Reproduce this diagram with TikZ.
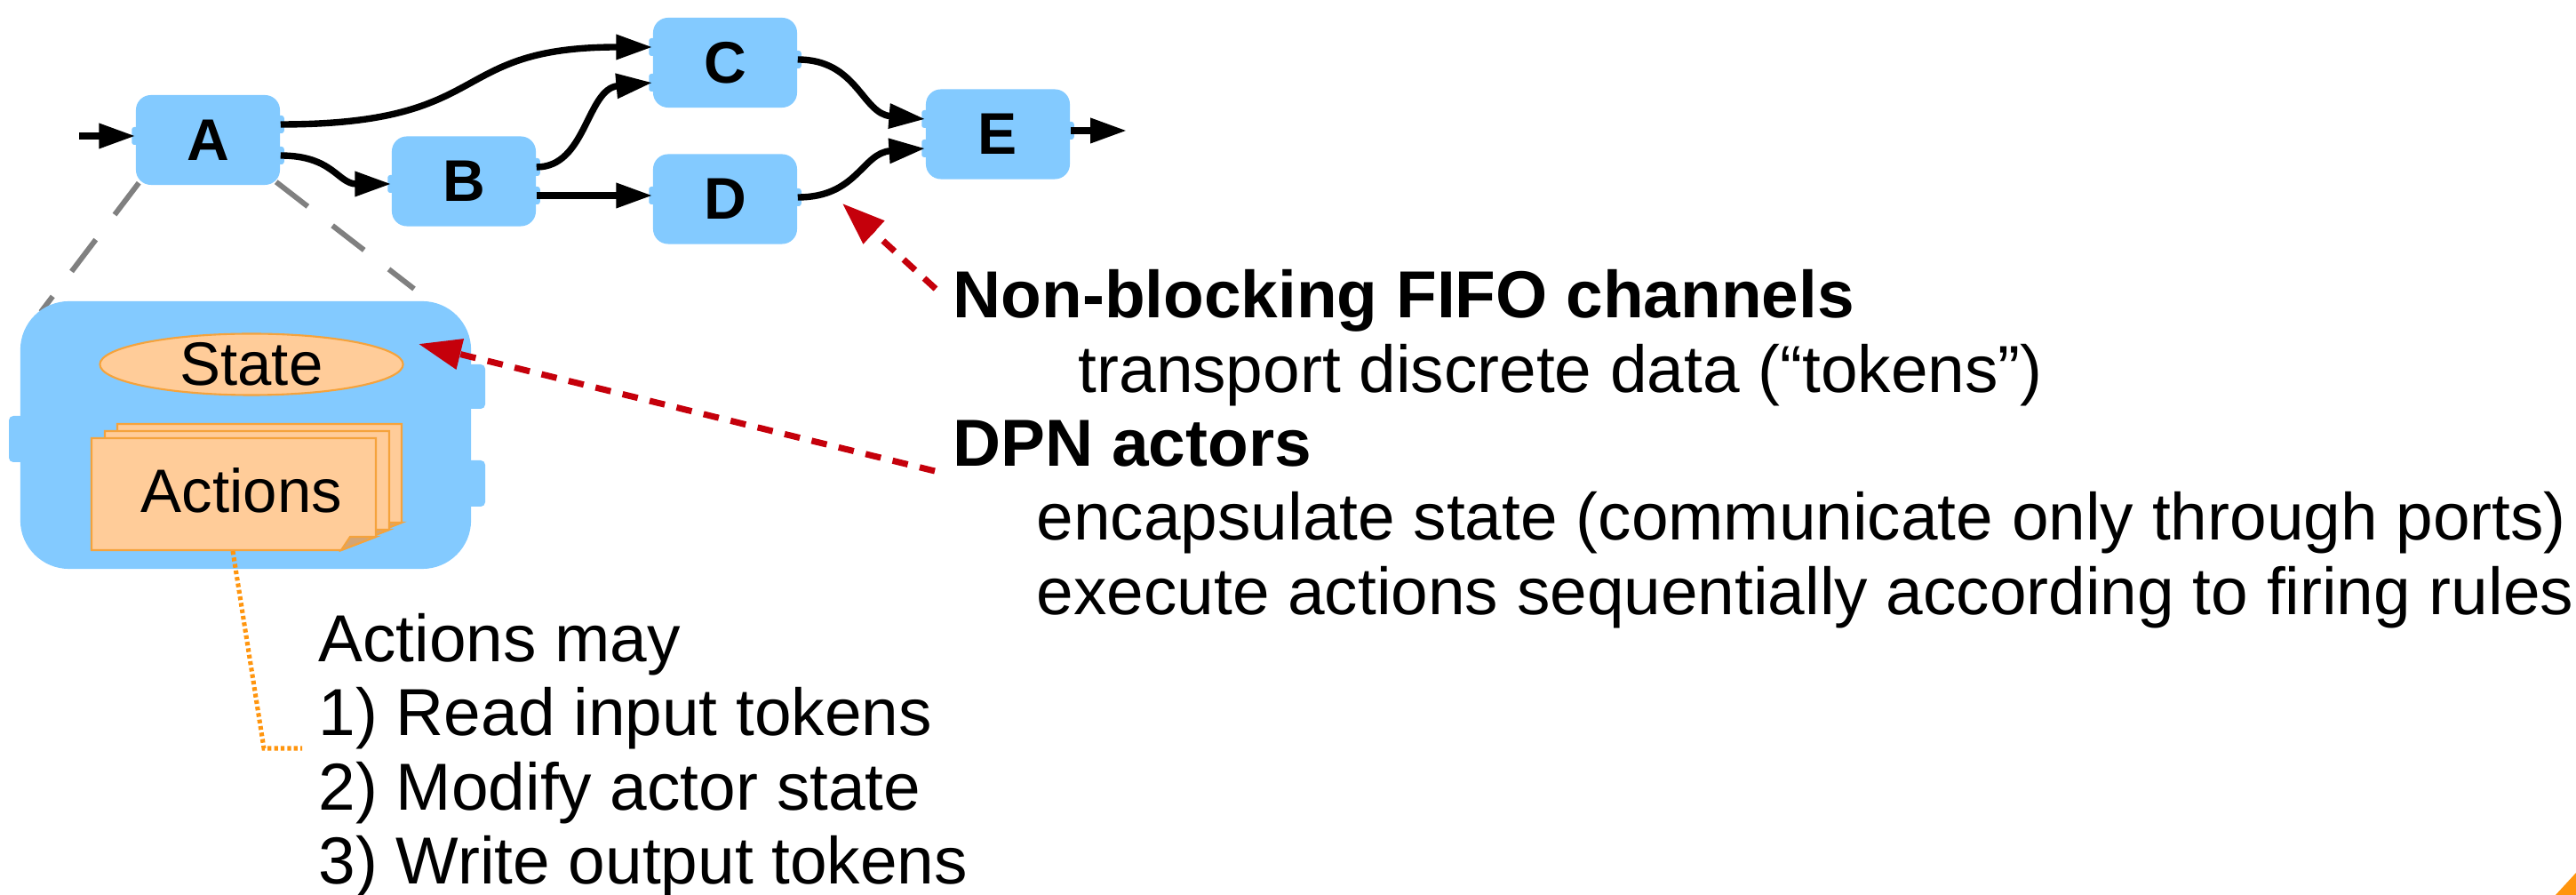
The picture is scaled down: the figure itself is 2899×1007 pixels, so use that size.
\documentclass[tikz,border=0pt]{standalone}
\usepackage{fontspec}
\setmainfont{Liberation Sans}
\usetikzlibrary{arrows.meta,shapes.geometric,calc}
\definecolor{actorblue}{HTML}{83CAFF}
\definecolor{peach}{HTML}{FFCC99}
\definecolor{peachline}{HTML}{F5A33C}
\definecolor{foldtan}{HTML}{D4A574}
\definecolor{arrowred}{HTML}{C5000B}
\definecolor{dotorange}{HTML}{FF950E}
\definecolor{guidegray}{HTML}{808080}
\newcommand\porttab[1]{\fill[actorblue, rounded corners=0.8pt] ($(#1)+(-4,-10)$) rectangle ($(#1)+(4,10)$);}
\newcommand\actioncard[2]{%
  \filldraw[fill=peach, draw=peachline, line width=0.6pt] (#1,#2) -- ++(320,0) -- ++(0,111) -- ++(-39,15) -- ++(-281,0) -- cycle;
  \filldraw[fill=foldtan, draw=peachline, line width=0.6pt] ({#1+281},{#2+126}) -- ({#1+291},{#2+111}) -- ({#1+320},{#2+111}) -- cycle;}
\begin{document}
\begin{tikzpicture}[x=0.01cm,y=-0.01cm,
  actor/.style={fill=actorblue, rounded corners=4.8pt, minimum width=1.62cm, minimum height=1.01cm, inner sep=0pt, font=\fontsize{18.8}{22}\selectfont\bfseries},
  flow/.style={line width=2.1pt, -{Triangle[length=11.6pt,width=7.6pt]}},
  redarrow/.style={draw=arrowred, line width=2pt, dash pattern=on 5pt off 3.9pt, -{Triangle[length=13.7pt,width=9.6pt]}},
  guide/.style={draw=guidegray, line width=1.7pt, dash pattern=on 12.8pt off 10pt},
  dotline/.style={draw=dotorange, line width=1.45pt, dash pattern=on 1.2pt off 0.9pt},
  bodytext/.style={anchor=base west, inner sep=0pt, font=\fontsize{21.27}{25}\selectfont},
  boldtext/.style={bodytext, font=\fontsize{21.27}{25}\selectfont\bfseries},
  innerlabel/.style={inner sep=0pt, font=\fontsize{19.6}{23}\selectfont}
]
\useasboundingbox (0,0) rectangle (2899,1007);

% flow graph nodes
\node[actor] (A) at (234,157.5) {A};
\node[actor] (B) at (522,204) {B};
\node[actor] (C) at (816,70.5) {C};
\node[actor] (D) at (816,224) {D};
\node[actor] (E) at (1123,151) {E};

% ports
\coordinate (Ain) at ($(A.west)+(0,-4.5)$);
\coordinate (Ao1) at ($(A.east)+(0,-17.5)$);
\coordinate (Ao2) at ($(A.east)+(0,17.5)$);
\coordinate (Bin) at ($(B.west)+(0,3)$);
\coordinate (Bo1) at ($(B.east)+(0,-16)$);
\coordinate (Bo2) at ($(B.east)+(0,16)$);
\coordinate (Ci1) at ($(C.west)+(0,-17.5)$);
\coordinate (Ci2) at ($(C.west)+(0,22.5)$);
\coordinate (Co) at ($(C.east)+(0,-3.5)$);
\coordinate (Din) at ($(D.west)+(0,-4)$);
\coordinate (Do) at ($(D.east)+(0,-2)$);
\coordinate (Ei1) at ($(E.west)+(0,-17)$);
\coordinate (Ei2) at ($(E.west)+(0,16)$);
\coordinate (Eo) at ($(E.east)+(0,-4)$);
\foreach \p in {Ain,Ao1,Ao2,Bin,Bo1,Bo2,Ci1,Ci2,Co,Din,Do,Ei1,Ei2,Eo} {\porttab{\p}}

\coordinate (src) at (89,153);
\coordinate (sink) at (1268,147);

% channels
\draw[flow] (src) -- (Ain);
\draw[flow] (Ao1) .. controls (560,140) and (500,53) .. (Ci1);
\draw[flow] (Ao2) .. controls (375,175) and (380,207) .. (Bin);
\draw[flow] (Bo1) .. controls (660,188) and (660,100) .. (Ci2);
\draw[flow] (Bo2) -- (Din);
\draw[flow] (Co) .. controls (965,67) and (970,128) .. (Ei1);
\draw[flow] (Do) .. controls (965,222) and (970,172) .. (Ei2);
\draw[flow] (Eo) -- (sink);

% zoom guide lines
\coordinate (bigTL) at (46,351);
\coordinate (bigTR) at (466,325);
\draw[guide] ($(A.south west)+(4,-3)$) -- (bigTL);
\draw[guide] ($(A.south east)+(-5,-4)$) -- (bigTR);

% enlarged actor
\fill[actorblue, rounded corners=1.4pt] (10,468) rectangle (30,520);
\fill[actorblue, rounded corners=1.4pt] (520,410) rectangle (546,460);
\fill[actorblue, rounded corners=1.4pt] (520,518) rectangle (546,570);
\node[fill=actorblue, rounded corners=15.6pt, minimum width=5.07cm, minimum height=3.01cm, inner sep=0pt] (big) at (276.5,489.5) {};
\node[ellipse, fill=peach, draw=peachline, line width=0.6pt, minimum width=3.41cm, minimum height=0.67cm, inner sep=0pt, font=\fontsize{19.6}{23}\selectfont] (state) at (283,410) {State};
\actioncard{132}{477}
\actioncard{118}{485}
\actioncard{103}{493}
\node[innerlabel, anchor=base] (actlabel) at (272,577) {Actions};

% texts
\node[boldtext] (fifo) at (1072,358) {Non-blocking FIFO channels};
\node[bodytext] (transport) at (1213,442) {transport discrete data (“tokens”)};
\node[boldtext] (dpn) at (1072,525) {DPN actors};
\node[bodytext] (encap) at (1166,608) {encapsulate state (communicate only through ports)};
\node[bodytext] (exec) at (1166,692) {execute actions sequentially according to firing rules};
\node[bodytext] (may) at (358,745) {Actions may};
\node[bodytext] (r1) at (358,828) {1) Read input tokens};
\node[bodytext] (r2) at (358,912) {2) Modify actor state};
\node[bodytext] (r3) at (358,995) {3) Write output tokens};

% annotation arrows
\coordinate (fifoTail) at (1053,325);
\coordinate (fifoTip) at (948,229);
\coordinate (dpnTail) at (1052,530);
\coordinate (stateTip) at (471,387);
\draw[redarrow] (fifoTail) -- (fifoTip);
\draw[redarrow] (dpnTail) -- (stateTip);

\coordinate (cardBottom) at (262,620);
\coordinate (noteBend) at (297,842);
\coordinate (noteEnd) at (340,842);
\draw[dotline] (cardBottom) -- (noteBend) -- (noteEnd);

% slide corner decoration
\fill[dotorange] (2876,1007) -- (2899,1007) -- (2899,982) -- cycle;
\end{tikzpicture}
\end{document}
